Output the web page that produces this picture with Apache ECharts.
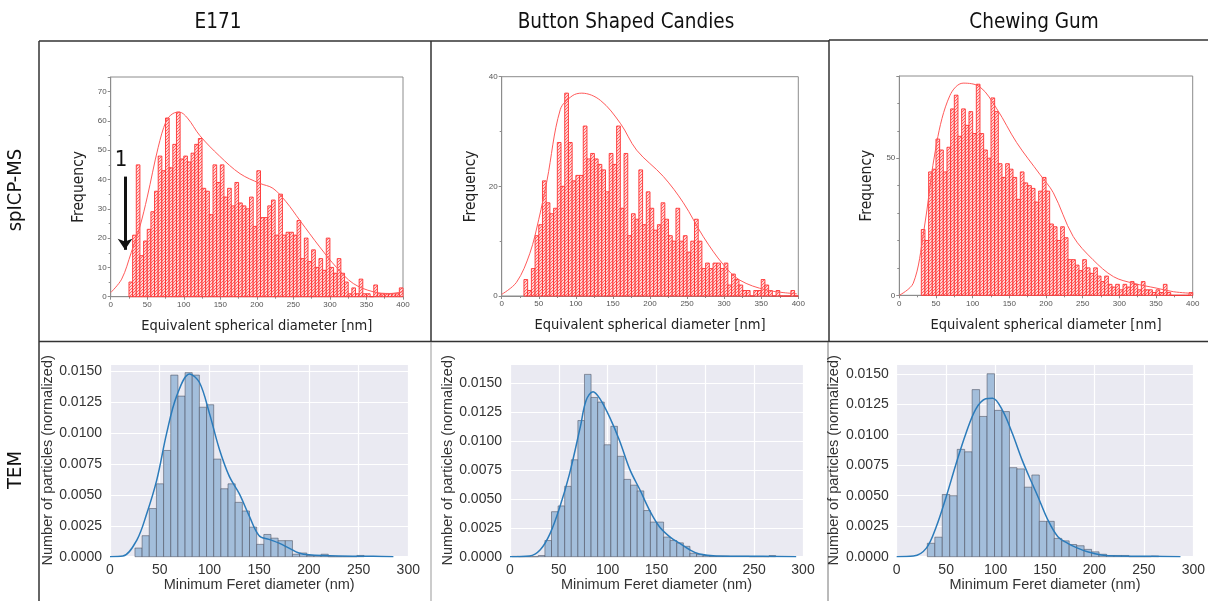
<!DOCTYPE html>
<html>
<head>
<meta charset="utf-8">
<style>
  html, body { margin: 0; padding: 0; background: #fff; }
  #main { width: 1208px; height: 601px; }
</style>
<script src="https://cdn.jsdelivr.net/npm/echarts@6/dist/echarts.min.js"></script>
</head>
<body>
<div id="main"></div>
<script>
// ---- data ----
var columns = ["E171", "Button Shaped Candies", "Chewing Gum"];
var rows = ["spICP-MS", "TEM"];

// spICP-MS histograms, 5 nm bins
var spBinWidth = 5;
var e171SpStart = 25;
var e171SpFreq = [5, 21, 45, 14, 19, 23, 29, 36, 48, 43, 61, 44, 52, 63, 47, 48, 46, 49, 52, 54,
  37, 36, 28, 45, 39, 45, 34, 37, 31, 39, 32, 31, 30, 34, 24, 43, 27, 27, 31, 33,
  21, 35, 21, 22, 22, 21, 26, 13, 20, 12, 16, 10, 13, 9, 20, 10, 8, 13, 8, 5,
  1, 3, 1, 6, 1, 1, 0, 4, 1, 1, 1, 1, 1, 1, 3];
var candySpStart = 30;
var candySpFreq = [3, 1, 5, 11, 13, 21, 17, 15, 16, 28, 20, 37, 28, 21, 22, 22, 31, 25, 26, 25,
  24, 23, 19, 26, 24, 31, 16, 26, 11, 15, 14, 23, 13, 19, 16, 12, 13, 17, 14, 11,
  10, 16, 10, 11, 8, 10, 14, 10, 5, 6, 5, 6, 6, 5, 6, 2, 4, 3, 2, 1,
  1, 0, 1, 1, 3, 2, 1, 0, 1, 0, 0, 0, 1, 0];
var gumSpStart = 30;
var gumSpFreq = [24, 20, 45, 46, 57, 53, 45, 54, 68, 73, 58, 68, 62, 67, 59, 77, 59, 53, 50, 72,
  67, 48, 43, 48, 46, 43, 35, 45, 41, 40, 39, 34, 38, 43, 38, 26, 25, 20, 25, 21,
  13, 13, 11, 9, 13, 10, 8, 10, 7, 5, 7, 4, 3, 4, 2, 4, 3, 5, 4, 2,
  5, 2, 2, 1, 2, 1, 4, 1, 0, 0, 0, 0, 0, 1];

// spICP-MS fitted curves
var e171SpCurveX = [0, 15, 28, 40, 50, 65, 76, 85, 94, 105, 122, 149, 177, 204, 222, 240, 259, 286, 309, 332, 359, 382, 400];
var e171SpCurveY = [1.4, 6, 15, 24, 34, 51, 60, 62.5, 63, 61, 55, 48, 42, 38.7, 37, 32.4, 26, 17, 10, 4.5, 1.7, 1.1, 1.7];
var candySpCurveX = [0, 20, 38, 50, 61, 79, 95, 108, 133, 160, 182, 218, 245, 272, 299, 321, 357, 398];
var candySpCurveY = [0.3, 2.5, 7.8, 14, 21, 34, 36.5, 37, 35.7, 31.5, 26.6, 21.8, 17, 10.8, 5.7, 2.9, 1.1, 0.4];
var gumSpCurveX = [0, 19, 33, 51, 69, 87, 110, 133, 160, 192, 210, 237, 264, 292, 319, 351, 374, 400];
var gumSpCurveY = [0, 4.4, 22.7, 55.7, 72.9, 77.4, 76, 68, 55.7, 44, 37.4, 21.5, 13, 6.8, 4.4, 2.6, 1.3, 0.7];

// TEM histograms (normalized)
var e171TemStart = 25.1, e171TemWidth = 7.2;
var e171TemDens = [0.0007, 0.0017, 0.0039, 0.0059, 0.0086, 0.0147, 0.0130, 0.0149, 0.0147, 0.0121,
  0.0123, 0.0079, 0.0055, 0.0059, 0.0044, 0.0037, 0.0024, 0.0010, 0.0018, 0.0015,
  0.0013, 0.0013, 0.0002, 0.0003, 0.0001, 0.0001, 0.0002, 0, 0, 0, 0, 0.0001];
var candyTemStart = 2, candyTemWidth = 6.75;
var candyTemDens = [0.00003, 0, 0, 0, 0.0001, 0.0014, 0.0039, 0.0044, 0.0061, 0.0084,
  0.0118, 0.0158, 0.0138, 0.0134, 0.0097, 0.0113, 0.0087, 0.0067, 0.0062, 0.0057,
  0.0040, 0.0030, 0.0030, 0.0017, 0.0014, 0.0012, 0.0009, 0.0003, 0.0002, 0.0001,
  0.00005, 0.00005, 0.00005, 0.00003, 0.00003, 0.00003, 0, 0, 0, 0.0001];
var gumTemStart = 31, gumTemWidth = 7.55;
var gumTemDens = [0.0011, 0.0016, 0.0051, 0.0050, 0.0088, 0.0086, 0.0137, 0.0115, 0.0150, 0.0120,
  0.0119, 0.0073, 0.0072, 0.0057, 0.0067, 0.0029, 0.0029, 0.0015, 0.0013, 0.0010,
  0.0009, 0.0006, 0.0004, 0.0002, 0.0001, 0.0001, 0.0001, 0, 0, 0, 0.00005];

// TEM KDE curves
var e171TemCurveX = [0, 13, 27, 37, 47, 57, 67, 80, 90, 100, 110, 120, 130, 140, 150, 160, 170, 180, 190, 200, 230, 265, 285];
var e171TemCurveY = [0, 0.00005, 0.00135, 0.0035, 0.0062, 0.0100, 0.0130, 0.0148, 0.0141, 0.0116, 0.0087, 0.0065, 0.0051, 0.0033, 0.0017, 0.0014, 0.0011, 0.0007, 0.0003, 0.00015, 0.00005, 0.00003, 0];
var candyTemCurveX = [0, 20, 31, 41, 51, 61, 72, 78, 85, 92, 102, 112, 123, 133, 143, 153, 164, 174, 184, 194, 211, 259, 293];
var candyTemCurveY = [0, 0.00006, 0.0006, 0.002, 0.0043, 0.0072, 0.01125, 0.01355, 0.0143, 0.0137, 0.0121, 0.0101, 0.0075, 0.0058, 0.0040, 0.0026, 0.0017, 0.00115, 0.0006, 0.00023, 0.00006, 0.00003, 0];
var gumTemCurveX = [0, 17, 30, 40, 50, 60, 70, 80, 90, 97, 107, 117, 127, 137, 143, 153, 163, 173, 183, 193, 207, 223, 257, 287];
var gumTemCurveY = [0, 0.00005, 0.0007, 0.00245, 0.0049, 0.0076, 0.0101, 0.0121, 0.01295, 0.0130, 0.0120, 0.0101, 0.0079, 0.0060, 0.0049, 0.0030, 0.00164, 0.0011, 0.0007, 0.0004, 0.00014, 0.00005, 0.00003, 0];

// annotation arrow in E171 spICP panel (data coords)
var arrowFrom = [19.6, 41];
var arrowTo = [19.6, 16];

// ---- helpers ----
var NARROW = "'Liberation Sans Narrow', 'DejaVu Sans Condensed', 'Liberation Sans', sans-serif";
var SANS = "'Liberation Sans', Arial, sans-serif";

function toBins(start, width, heights) {
  return heights.map(function (h, i) { return [start + i * width, h, width]; });
}
function toPairs(xs, ys) {
  return xs.map(function (x, i) { return [x, ys[i]]; });
}

// red hatch pattern for the spICP bars
var hatch = document.createElement("canvas");
hatch.width = 3; hatch.height = 3;
var hctx = hatch.getContext("2d");
hctx.fillStyle = "rgba(255,215,215,1)";
hctx.fillRect(0, 0, 3, 3);
hctx.strokeStyle = "rgba(255,60,60,0.75)";
hctx.lineWidth = 1;
hctx.beginPath();
hctx.moveTo(0, 3); hctx.lineTo(3, 0);
hctx.moveTo(-1, 1); hctx.lineTo(1, -1);
hctx.moveTo(2, 4); hctx.lineTo(4, 2);
hctx.stroke();

var spBarStyle = { fill: { image: hatch, repeat: "repeat" }, stroke: "#ff3030", lineWidth: 0.9 };
var temBarStyle = { fill: "#a3bedb", stroke: "rgba(70,75,90,0.6)", lineWidth: 0.9 };

function histRender(style) {
  return function (params, api) {
    var x0 = api.value(0), h = api.value(1), w = api.value(2);
    var a = api.coord([x0, 0]);
    var b = api.coord([x0 + w, h]);
    return {
      type: "rect",
      shape: { x: a[0], y: b[1], width: b[0] - a[0], height: a[1] - b[1] },
      style: Object.assign({}, style)
    };
  };
}

function histSeries(i, data, style) {
  return {
    type: "custom", xAxisIndex: i, yAxisIndex: i,
    renderItem: histRender(style),
    encode: { x: 0, y: 1 },
    data: data, silent: true
  };
}
function curveSeries(i, data, color, width) {
  return {
    type: "line", xAxisIndex: i, yAxisIndex: i,
    data: data, showSymbol: false, smooth: 0.35, silent: true,
    lineStyle: { color: color, width: width }, z: 5
  };
}

// ---- layout ----
var grids = [
  { left: 110.7, top: 77, width: 292.3, height: 219.7 },
  { left: 501.7, top: 76.7, width: 296.6, height: 219.3 },
  { left: 899.3, top: 76, width: 293.4, height: 219.3 },
  { left: 110, top: 364, width: 298.3, height: 192.7 },
  { left: 510, top: 364, width: 293, height: 192.7 },
  { left: 896.7, top: 364, width: 300, height: 192.7 }
];
grids.forEach(function (g, i) {
  g.show = true;
  if (i < 3) { g.borderColor = "#8c8c8c"; g.borderWidth = 1; g.backgroundColor = "#fff"; }
  else { g.borderWidth = 0; g.backgroundColor = "#eaeaf2"; }
});

var spYMax = [75, 40, 80];
var spYInterval = [10, 20, 50];
var spYMinor = [2, 2, 5];
var spNameGap = [24, 23, 24];
var temYMax = [0.0156, 0.0167, 0.0158];
var temNameGap = [49, 44, 44];

var xAxes = [], yAxes = [];
for (var i = 0; i < 3; i++) {
  xAxes.push({
    gridIndex: i, type: "value", min: 0, max: 400, interval: 50,
    name: "Equivalent spherical diameter [nm]", nameLocation: "middle", nameGap: 22,
    nameTextStyle: { fontFamily: NARROW, fontSize: 14.5, color: "#222" },
    axisLine: { lineStyle: { color: "#8c8c8c" } },
    axisTick: { length: 3, lineStyle: { color: "#8c8c8c" } },
    minorTick: { show: true, splitNumber: 2, length: 2, lineStyle: { color: "#8c8c8c" } },
    axisLabel: { fontSize: 8, color: "#555", margin: 4, fontFamily: SANS },
    splitLine: { show: false }
  });
  yAxes.push({
    gridIndex: i, type: "value", min: 0, max: spYMax[i], interval: spYInterval[i],
    name: "Frequency", nameLocation: "middle", nameGap: spNameGap[i], nameRotate: 90,
    nameTextStyle: { fontFamily: NARROW, fontSize: 15.5, color: "#222" },
    axisLine: { show: true, lineStyle: { color: "#8c8c8c" } },
    axisTick: { show: true, length: 3, lineStyle: { color: "#8c8c8c" } },
    minorTick: { show: true, splitNumber: spYMinor[i], length: 2, lineStyle: { color: "#8c8c8c" } },
    axisLabel: { fontSize: 8, color: "#555", margin: 4, fontFamily: SANS, showMaxLabel: spYMax[i] % spYInterval[i] === 0 },
    splitLine: { show: false }
  });
}
for (var j = 0; j < 3; j++) {
  xAxes.push({
    gridIndex: 3 + j, type: "value", min: 0, max: 300, interval: 50,
    name: "Minimum Feret diameter (nm)", nameLocation: "middle", nameGap: 21,
    nameTextStyle: { fontFamily: SANS, fontSize: 14.5, color: "#333" },
    axisLine: { show: false }, axisTick: { show: false },
    axisLabel: { fontSize: 14, color: "#333", margin: 6, fontFamily: SANS },
    splitLine: { show: true, lineStyle: { color: "#fff", width: 1.2 } }
  });
  yAxes.push({
    gridIndex: 3 + j, type: "value", min: 0, max: temYMax[j], interval: 0.0025,
    name: "Number of particles (normalized)", nameLocation: "middle", nameGap: temNameGap[j], nameRotate: 90,
    nameTextStyle: { fontFamily: SANS, fontSize: 14.5, color: "#333" },
    axisLine: { show: false }, axisTick: { show: false },
    axisLabel: {
      fontSize: 14, color: "#333", margin: 8, fontFamily: SANS, showMaxLabel: false,
      formatter: function (v) { return v.toFixed(4); }
    },
    splitLine: { show: true, lineStyle: { color: "#fff", width: 1.2 } }
  });
}

var series = [
  histSeries(0, toBins(e171SpStart, spBinWidth, e171SpFreq), spBarStyle),
  histSeries(1, toBins(candySpStart, spBinWidth, candySpFreq), spBarStyle),
  histSeries(2, toBins(gumSpStart, spBinWidth, gumSpFreq), spBarStyle),
  curveSeries(0, toPairs(e171SpCurveX, e171SpCurveY), "#ff5a5a", 1),
  curveSeries(1, toPairs(candySpCurveX, candySpCurveY), "#ff5a5a", 1),
  curveSeries(2, toPairs(gumSpCurveX, gumSpCurveY), "#ff5a5a", 1),
  histSeries(3, toBins(e171TemStart, e171TemWidth, e171TemDens), temBarStyle),
  histSeries(4, toBins(candyTemStart, candyTemWidth, candyTemDens), temBarStyle),
  histSeries(5, toBins(gumTemStart, gumTemWidth, gumTemDens), temBarStyle),
  curveSeries(3, toPairs(e171TemCurveX, e171TemCurveY), "#2b7bba", 1.5),
  curveSeries(4, toPairs(candyTemCurveX, candyTemCurveY), "#2b7bba", 1.5),
  curveSeries(5, toPairs(gumTemCurveX, gumTemCurveY), "#2b7bba", 1.5)
];

// arrow annotation on the E171 spICP panel
series[3].markLine = {
  silent: true, symbol: ["none", "arrow"], symbolSize: 11,
  label: { show: false },
  lineStyle: { color: "#111", width: 3, type: "solid" },
  data: [[{ coord: arrowFrom }, { coord: arrowTo }]]
};

// frame lines and labels of the figure
function ln(x1, y1, x2, y2, color, w) {
  return { type: "line", silent: true, shape: { x1: x1, y1: y1, x2: x2, y2: y2 }, style: { stroke: color, lineWidth: w } };
}
var graphic = [
  ln(39, 41, 829, 41, "#333", 1.5),
  ln(829, 40, 1208, 40, "#333", 1.5),
  ln(39, 41, 39, 601, "#333", 1.5),
  ln(431, 41, 431, 341, "#333", 1.5),
  ln(829, 40, 829, 341, "#333", 1.5),
  ln(39, 341.5, 1208, 341.5, "#333", 1.5),
  ln(431, 342, 431, 601, "#999", 1),
  ln(828, 342, 828, 601, "#777", 1),
  { type: "text", x: 121, y: 160, silent: true,
    style: { text: "1", fontFamily: NARROW, fontSize: 22, fill: "#111", align: "center", verticalAlign: "middle" } }
];
var colX = [218, 626, 1034];
columns.forEach(function (c, k) {
  graphic.push({ type: "text", x: colX[k], y: 23, silent: true,
    style: { text: c, fontFamily: NARROW, fontSize: 20.5, fill: "#111", align: "center", verticalAlign: "middle" } });
});
var rowY = [190, 470];
rows.forEach(function (r, k) {
  graphic.push({ type: "text", x: 16, y: rowY[k], rotation: Math.PI / 2, silent: true,
    style: { text: r, fontFamily: NARROW, fontSize: 20, fill: "#111", align: "center", verticalAlign: "middle" } });
});

var chart = echarts.init(document.getElementById("main"), null, { renderer: "canvas" });
chart.setOption({
  animation: false,
  backgroundColor: "#fff",
  grid: grids,
  xAxis: xAxes,
  yAxis: yAxes,
  series: series,
  graphic: graphic
});
</script>
</body>
</html>
